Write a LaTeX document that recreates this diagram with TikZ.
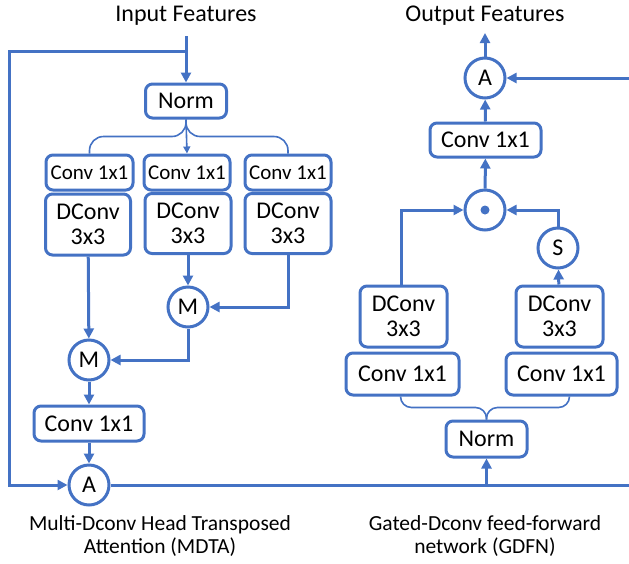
\documentclass[tikz,border=0pt]{standalone}
\usepackage{fontspec}
\setmainfont{Carlito}
\usetikzlibrary{arrows.meta,calc,positioning}
\definecolor{lineblue}{RGB}{68,114,196}
\tikzstyle{flow}=[
  >={Triangle[length=10pt,width=10pt]}, line width=3pt, color=lineblue, text=black,
  x=1pt, y=-1pt, font=\fontsize{24}{25}\selectfont
]
\tikzstyle{blk}=[
  draw, rounded corners=7pt, fill=white, inner sep=0pt, align=center
]
\tikzstyle{op}=[
  draw, circle, minimum size=40pt, inner sep=0pt, fill=white
]
\tikzstyle{split}=[
  line width=1.6pt, rounded corners=14pt
]
\tikzstyle{small}=[
  font=\fontsize{21}{24}\selectfont
]
\tikzstyle{caption}=[
  align=center, font=\fontsize{21.5}{23.5}\selectfont
]

\begin{document}
\begin{tikzpicture}[flow]
  \useasboundingbox (0,0) rectangle (629,563);
  % MDTA
  \node (inl) at (186,16) {Input Features};
  \coordinate (in) at (186,36);
  \coordinate (tap) at (186,51);
  \coordinate (lc) at (9,51);
  \node (norma) at (186,101) [blk, minimum width=81pt, minimum height=34pt] {Norm};
  \node (qa) at (89.5,172.5) [blk, small, minimum width=87pt, minimum height=35pt] {Conv 1x1};
  \node (qb) at (187,172.5) [blk, small, minimum width=86pt, minimum height=35pt] {Conv 1x1};
  \node (qc) at (288,172.5) [blk, small, minimum width=86pt, minimum height=35pt] {Conv 1x1};
  \node (da) at (88,224.5) [blk, minimum width=85pt, minimum height=61pt] {DConv\\3x3};
  \node (db) at (188,223.5) [blk, minimum width=86pt, minimum height=60pt] {DConv\\3x3};
  \node (dc) at (288,223.5) [blk, minimum width=86pt, minimum height=60pt] {DConv\\3x3};
  \node (ma) at (188,307) [op] {M};
  \node (mb) at (89,360) [op] {M};
  \node (pa) at (89,423.5) [blk, minimum width=110pt, minimum height=35pt] {Conv 1x1};
  \node (adda) at (89,485) [op] {A};
  \node (capa) at (160,536) [caption] {Multi-Dconv Head Transposed\\Attention (MDTA)};

  \draw [->] (in) -- (norma);
  \draw [->] (tap) -- (lc) |- (adda);
  \draw [split] (norma.south) -- ++(0,17) -| (qa.north);
  \draw [split] (norma.south) -- ++(0,17) -| (qc.north);
  \draw [line width=1.6pt, -{Triangle[length=7pt,width=7pt]}] (norma.south) -- (qb.north);
  \draw [->] (db) -- (ma);
  \draw [->] (dc.south) |- (ma);
  \draw [->] (da) -- (mb);
  \draw [->] (ma) |- (mb);
  \draw [->] (mb) -- (pa);
  \draw [->] (pa) -- (adda);

  % GDFN
  \node (outl) at (485,16) {Output Features};
  \coordinate (out) at (485,33);
  \coordinate (ra) at (629,78);
  \coordinate (rb) at (629,485);
  \node (addb) at (485,78) [op] {A};
  \node (pb) at (485.5,140) [blk, minimum width=111pt, minimum height=34pt] {Conv 1x1};
  \node (mul) at (485,210) [op] {};
  \fill (mul) circle (4.5pt);
  \node (sg) at (558,248) [op] {S};
  \node (ea) at (403.5,316.5) [blk, minimum width=87pt, minimum height=61pt] {DConv\\3x3};
  \node (eb) at (559.5,316.5) [blk, minimum width=87pt, minimum height=61pt] {DConv\\3x3};
  \node (ca) at (402.5,374) [blk, minimum width=113pt, minimum height=42pt] {Conv 1x1};
  \node (cb) at (561.5,374) [blk, minimum width=111pt, minimum height=42pt] {Conv 1x1};
  \node (normb) at (486.5,439) [blk, minimum width=81pt, minimum height=36pt] {Norm};
  \node (capb) at (485,536) [caption] {Gated-Dconv feed-forward\\network (GDFN)};

  \draw (adda) -- (rb);
  \draw [->] (normb |- adda) -- (normb);
  \draw [split, rounded corners=11pt] (normb.north) -- ++(0,-12) -| ($(ca.south)+(-2,0)$);
  \draw [split, rounded corners=11pt] (normb.north) -- ++(0,-12) -| ($(cb.south)+(8,0)$);
  \draw [->] (eb) -- (sg);
  \draw [->] ($(ea.north)+(-2,0)$) |- (mul);
  \draw [->] (sg) |- (mul);
  \draw [->] (mul) -- (pb);
  \draw [->] (pb) -- (addb);
  \draw [->] (ra) -- (addb);
  \draw [->] (addb) -- (out);
\end{tikzpicture}
\end{document}
